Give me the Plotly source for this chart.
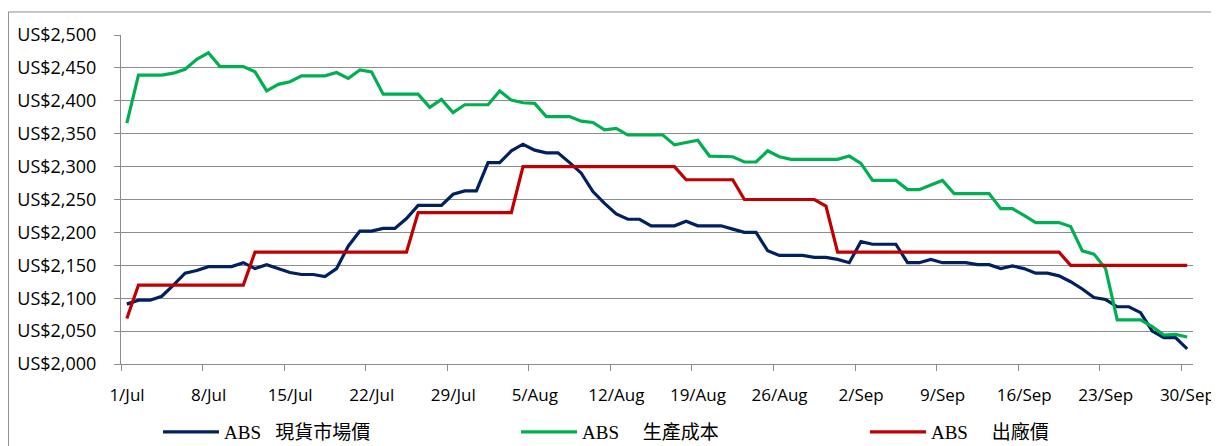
import pandas as pd
import plotly.graph_objects as go

# ── DATA ────────────────────────────────────────────────────────
# one point per day, 1/Jul .. 30/Sep (points sit mid-day, like Excel's date axis)
dates = pd.date_range('2013-07-01 12:00', '2013-09-30 12:00', freq='D')

spot_price = [
    2091, 2097, 2097, 2103, 2120, 2138, 2142, 2148, 2148, 2148,
    2154, 2145, 2151, 2145, 2139, 2136, 2136, 2133, 2145, 2179,
    2202, 2202, 2206, 2206, 2221, 2241, 2241, 2241, 2258, 2263,
    2263, 2306, 2306, 2324, 2334, 2325, 2321, 2321, 2306, 2290,
    2262, 2244, 2228, 2220, 2220, 2210, 2210, 2210, 2217, 2210,
    2210, 2210, 2205, 2200, 2200, 2172, 2165, 2165, 2165, 2162,
    2162, 2159, 2154, 2186, 2182, 2182, 2182, 2154, 2154, 2159,
    2154, 2154, 2154, 2151, 2151, 2145, 2149, 2145, 2138, 2138,
    2134, 2125, 2114, 2101, 2098, 2087, 2087, 2078, 2050, 2040,
    2040, 2023,
]

production_cost = [
    2366, 2439, 2439, 2439, 2442, 2448, 2463, 2473, 2452, 2452,
    2452, 2444, 2415, 2425, 2429, 2438, 2438, 2438, 2443, 2434,
    2447, 2444, 2410, 2410, 2410, 2410, 2390, 2402, 2382, 2394,
    2394, 2394, 2415, 2401, 2397, 2396, 2376, 2376, 2376, 2369,
    2367, 2356, 2358, 2348, 2348, 2348, 2348, 2333, 2336, 2340,
    2316, 2315, 2315, 2307, 2307, 2324, 2315, 2311, 2311, 2311,
    2311, 2311, 2316, 2305, 2279, 2279, 2279, 2265, 2265, 2272,
    2279, 2259, 2259, 2259, 2259, 2236, 2236, 2226, 2215, 2215,
    2215, 2209, 2172, 2167, 2145, 2067, 2067, 2067, 2057, 2044,
    2045, 2041,
]

ex_factory_price = [
    2069, 2120, 2120, 2120, 2120, 2120, 2120, 2120, 2120, 2120,
    2120, 2170, 2170, 2170, 2170, 2170, 2170, 2170, 2170, 2170,
    2170, 2170, 2170, 2170, 2170, 2230, 2230, 2230, 2230, 2230,
    2230, 2230, 2230, 2230, 2300, 2300, 2300, 2300, 2300, 2300,
    2300, 2300, 2300, 2300, 2300, 2300, 2300, 2300, 2280, 2280,
    2280, 2280, 2280, 2250, 2250, 2250, 2250, 2250, 2250, 2250,
    2240, 2170, 2170, 2170, 2170, 2170, 2170, 2170, 2170, 2170,
    2170, 2170, 2170, 2170, 2170, 2170, 2170, 2170, 2170, 2170,
    2170, 2150, 2150, 2150, 2150, 2150, 2150, 2150, 2150, 2150,
    2150, 2150,
]

NB = '\u00a0'
series_names = ['ABS ' + NB * 2 + '現貨市場價',
                'ABS ' + NB * 4 + '生產成本',
                'ABS ' + NB * 4 + '出廠價']
series_colors = ['#002060', '#00B050', '#C00000']
legend_ids = ['legend', 'legend2', 'legend3']
legend_x = [0.0345, 0.3685, 0.694]   # each entry has its own slot under the chart

GRID = '#8c8c8c'
LABEL_FONT = 'Open Sans, Noto Sans, sans-serif'
LEGEND_FONT = dict(family='Liberation Serif, Noto Sans CJK TC, serif',
                   size=19, color='#000000')

# ── FIGURE ──────────────────────────────────────────────────────
fig = go.Figure()
for name, vals, color, lg in zip(series_names,
                                 [spot_price, production_cost, ex_factory_price],
                                 series_colors, legend_ids):
    fig.add_trace(go.Scatter(
        x=dates, y=vals, name=name, mode='lines', legend=lg,
        line=dict(color=color, width=3.2)
    ))

# grey frame around the whole chart (bottom edge runs off the picture)
fig.add_shape(type='rect', xref='paper', yref='paper',
              x0=-0.1050, x1=1.0233, y0=-0.5, y1=1.070,
              line=dict(color=GRID, width=1), layer='above')

fig.update_xaxes(
    type='date',
    range=['2013-07-01', '2013-10-01'],
    tick0='2013-07-01', dtick=7 * 86400000,
    tickformat='%-d/%b',
    ticks='outside', ticklen=6, tickcolor=GRID, tickwidth=1,
    ticklabelshift=6, ticklabelstandoff=10,
    showline=True, linecolor=GRID, linewidth=1,
    showgrid=False, zeroline=False, automargin=False,
    tickfont=dict(family=LABEL_FONT, size=17, color='#000000'),
)
fig.update_yaxes(
    range=[2000, 2500], dtick=50,
    tickprefix='US$', tickformat=',d',
    ticks='outside', ticklen=6, tickcolor=GRID, tickwidth=1,
    ticklabelstandoff=14,
    showline=True, linecolor=GRID, linewidth=1,
    showgrid=True, gridcolor=GRID, gridwidth=1,
    zeroline=False, automargin=False,
    tickfont=dict(family=LABEL_FONT, size=18, color='#000000'),
)

legends = {}
for lg, lx in zip(legend_ids, legend_x):
    legends[lg] = dict(
        orientation='h', x=lx, y=-0.2067, xanchor='left', yanchor='middle',
        itemwidth=56, font=LEGEND_FONT, bgcolor='rgba(0,0,0,0)',
    )

# page body has an 8px margin, so the figure is shifted; the bottom part
# below the window is just room for the legends
fig.update_layout(
    width=1211, height=470,
    margin=dict(l=113, r=26, t=27, b=114),
    paper_bgcolor='white', plot_bgcolor='white',
    showlegend=True,
    **legends,
)

fig.write_html('out.html')
